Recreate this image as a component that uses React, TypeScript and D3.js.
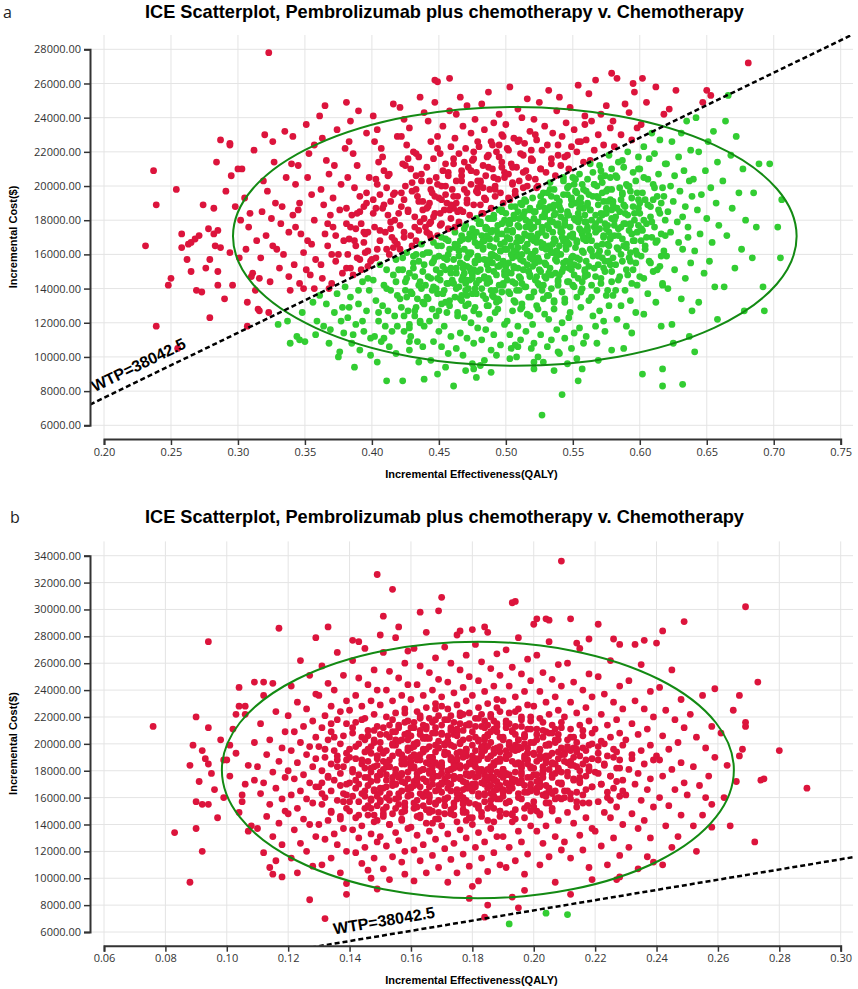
import React, { useEffect, useRef } from "react";
import * as d3 from "d3";

const TITLE = "ICE Scatterplot, Pembrolizumab plus chemotherapy v. Chemotherapy";
const X_LABEL = "Incremental Effectiveness(QALY)";
const Y_LABEL = "Incremental Cost($)";
const WTP = 38042.5;

const xTicksA = [0.2, 0.25, 0.3, 0.35, 0.4, 0.45, 0.5, 0.55, 0.6, 0.65, 0.7, 0.75];
const yTicksA = [6000, 8000, 10000, 12000, 14000, 16000, 18000, 20000, 22000, 24000, 26000, 28000];
const xTicksB = [0.06, 0.08, 0.1, 0.12, 0.14, 0.16, 0.18, 0.2, 0.22, 0.24, 0.26, 0.28, 0.3];
const yTicksB = [6000, 8000, 10000, 12000, 14000, 16000, 18000, 20000, 22000, 24000, 26000, 28000, 30000, 32000, 34000];

// confidence ellipses
const ellipseA = { eff: 0.5067, cost: 17055, effR: 0.2104, costR: 7570 };
const ellipseB = { eff: 0.1818, cost: 18055, effR: 0.0834, costR: 9550 };

// simulations, flat pairs: effectiveness x1000, cost / 100
const aLeftTail = [
  231,165, 237,209, 239,189, 239,118, 254,198, 255,105, 250,146, 248,142, 258,172, 258,164, 263,166, 265,167,
  268,169, 265,150, 269,139, 273,138, 274,189, 278,175, 279,157, 279,123, 282,187, 282,172, 284,214, 285,174,
  285,150, 285,142, 283,165, 287,164, 287,227, 294,225, 294,224, 295,206, 294,161, 296,142, 298,188, 271,171,
  276,152, 290,134, 262,157, 291,197,
];

const aBody1 = [
  301,158, 303,210, 300,210, 305,193, 308,176, 311,149, 310,147, 316,146, 315,128, 307,132, 307,118, 316,127,
  312,221, 318,185, 314,168, 319,203, 306,163, 317,158, 313,139, 320,230, 302,180, 309,184,
  322,197, 325,181, 321,171, 327,214, 329,163, 331,152, 324,144, 333,188, 336,205, 338,173, 326,226, 334,160,
  339,139, 323,126, 337,121, 335,232, 328,190, 332,178, 340,213, 330,119, 323,278, 326,165, 338,147,
  341,229, 343,201, 345,186, 347,172, 349,161, 342,154, 346,143, 351,236, 353,219, 355,195, 357,180, 352,168,
  358,157, 354,148, 356,132, 348,126, 344,112, 350,109, 359,121, 339,108, 346,110, 346,190, 352,205, 357,224,
  343,176, 355,166, 349,140, 358,113, 345,212, 351,151, 341,183, 357,140,
  361,241, 363,228, 365,247, 366,215, 368,207, 362,198, 364,189, 369,183, 371,176, 373,171, 367,165, 375,160,
  362,154, 378,149, 370,143, 374,137, 366,131, 372,126, 377,121, 364,118, 379,114, 368,108, 376,103, 363,146,
  371,193, 377,201, 380,222, 374,233, 367,178, 379,168, 373,156, 361,136, 378,129, 369,116, 375,100, 365,172,
  372,212, 376,186, 370,160, 368,140,
  381,249, 384,238, 383,226, 386,219, 389,212, 382,205, 387,199, 391,194, 394,188, 385,183, 392,178, 397,173,
  383,169, 388,165, 395,161, 399,156, 381,152, 386,148, 393,144, 398,139, 384,135, 390,131, 396,127, 382,123,
  388,119, 394,115, 399,111, 385,108, 391,104, 387,94, 396,231, 390,244, 398,205, 381,187, 395,172, 389,158,
  392,151, 380,141, 397,146, 383,129, 393,121, 386,113, 399,101, 391,185, 384,176, 396,196, 388,175, 394,167,
  382,160, 397,153, 390,139,
  401,241, 404,233, 402,226, 407,222, 405,214, 409,209, 403,204, 411,199, 406,195, 414,191, 408,187, 412,183,
  417,180, 402,176, 410,173, 415,170, 419,166, 404,163, 413,160, 418,157, 406,154, 411,151, 416,148, 401,145,
  409,142, 414,139, 419,136, 403,133, 408,130, 412,127, 417,124, 405,121, 410,118, 415,115, 402,112, 407,109,
  413,106, 418,102, 404,97, 411,86, 416,248, 419,229, 408,217, 413,207, 417,196, 403,187, 420,184, 406,168,
  416,164, 400,157, 420,151, 411,140, 405,126, 419,118, 409,111, 414,175, 401,192, 418,144,
  421,246, 424,239, 428,234, 422,229, 426,224, 431,220, 435,217, 423,213, 429,210, 433,206, 437,203, 425,200,
  430,197, 434,194, 438,191, 422,188, 427,185, 432,182, 436,179, 440,176, 424,173, 429,171, 433,168, 437,166,
  421,163, 426,161, 431,159, 435,156, 439,154, 423,151, 428,149, 432,147, 436,144, 440,142, 425,139, 430,137,
  434,134, 438,132, 422,129, 427,127, 432,124, 436,121, 439,118, 424,115, 429,112, 434,109, 438,106, 428,104,
  428,109, 435,97, 439,87, 423,86, 436,252, 439,243, 427,216, 433,198, 438,186, 421,177, 430,165, 438,160,
  425,144, 433,129, 428,119, 424,192, 435,174, 431,152, 426,135,
];

const aBody2 = [
  447,249, 458,244, 442,238, 453,235, 449,229, 444,226, 459,223, 451,219, 446,216, 455,213, 441,211, 457,208,
  448,205, 443,203, 452,200, 460,198, 445,196, 450,193, 456,190, 442,188, 454,186, 447,184, 459,181, 444,179,
  451,177, 457,175, 441,173, 449,171, 455,169, 446,167, 452,165, 458,163, 443,161, 450,159, 456,157, 445,155,
  453,153, 448,151, 459,149, 442,147, 451,145, 457,143, 446,141, 454,139, 449,137, 441,135, 458,133, 452,131,
  445,128, 456,126, 448,124, 443,121, 454,118, 450,115, 459,112, 446,109, 452,106, 457,102, 444,98, 455,94,
  449,90, 461,83, 447,262, 458,263, 449,261, 452,192, 444,170, 457,160, 449,146, 455,132,
  466,252, 471,247, 463,242, 477,239, 468,235, 474,231, 462,228, 479,226, 470,222, 465,219, 476,216, 461,213,
  472,211, 478,208, 467,206, 463,203, 474,201, 469,198, 479,196, 464,194, 471,192, 476,189, 461,187, 468,185,
  473,183, 478,181, 465,179, 470,177, 475,175, 462,173, 467,171, 472,169, 477,167, 464,165, 469,163, 474,161,
  479,159, 461,157, 466,155, 471,153, 476,151, 463,149, 468,147, 473,145, 478,143, 465,141, 470,139, 475,137,
  462,135, 467,133, 472,131, 477,129, 464,126, 469,123, 474,120, 479,117, 466,114, 471,111, 476,108, 463,105,
  468,101, 475,96, 470,92, 478,88, 465,178, 473,172, 462,164, 477,156, 468,152, 475,148, 463,140, 471,136,
  476,170, 466,186, 479,199,
  487,255, 482,248, 495,242, 491,237, 484,233, 498,229, 489,226, 480,223, 493,220, 486,217, 497,214, 483,212,
  490,210, 499,208, 485,206, 494,204, 481,202, 492,200, 488,198, 496,196, 492,194, 485,192, 498,190, 481,189,
  489,187, 495,186, 483,184, 491,183, 487,181, 499,180, 480,178, 494,177, 486,175, 490,174, 497,172, 482,171,
  493,169, 484,168, 496,166, 488,165, 483,163, 496,162, 489,160, 492,159, 480,157, 498,156, 486,154, 494,153,
  481,151, 491,150, 499,148, 484,146, 488,144, 495,142, 482,140, 497,138, 490,136, 485,134, 493,132, 487,130,
  494,128, 480,125, 488,122, 499,119, 485,116, 491,113, 482,110, 496,107, 489,104, 493,101, 484,98, 476,93,
  489,91, 481,95,
  503,258, 516,251, 509,245, 512,240, 500,236, 518,232, 506,228, 514,225, 501,222, 511,219, 519,216, 504,213,
  508,211, 515,209, 502,207, 517,205, 510,203, 505,201, 513,199, 507,197, 507,195, 502,193, 515,191, 511,190,
  504,188, 518,187, 509,185, 500,184, 513,182, 506,181, 517,179, 503,178, 510,176, 519,175, 505,173, 514,172,
  501,170, 512,169, 508,167, 516,166, 514,164, 500,163, 508,161, 519,160, 505,158, 511,157, 502,155, 516,154,
  509,152, 513,151, 504,149, 518,147, 501,145, 507,143, 515,141, 510,139, 503,137, 517,135, 506,133, 512,131,
  512,129, 505,127, 518,124, 501,121, 509,118, 515,115, 503,113, 511,110, 507,107, 519,105, 504,105, 509,106,
  503,99, 508,100, 521,93, 527,66,
  532,256, 525,249, 538,244, 521,239, 529,235, 535,231, 523,227, 531,224, 527,221, 539,218, 520,215, 534,213,
  526,210, 530,208, 537,206, 522,204, 533,202, 524,200, 536,198, 528,196, 534,194, 520,193, 528,191, 539,189,
  525,188, 531,186, 522,185, 536,183, 529,182, 533,180, 524,179, 538,177, 521,176, 527,174, 535,173, 530,171,
  523,170, 537,168, 526,167, 532,165, 527,164, 522,162, 535,161, 531,159, 524,158, 538,156, 529,155, 520,153,
  533,152, 526,150, 537,149, 523,147, 530,146, 539,144, 525,142, 534,140, 521,138, 532,136, 528,134, 536,132,
  523,130, 536,128, 529,125, 532,122, 520,119, 538,116, 526,113, 534,110, 521,108, 531,106, 539,103, 524,100,
  528,97, 536,92, 542,78, 521,97,
  554,259, 540,252, 548,246, 559,241, 545,237, 551,233, 542,229, 556,226, 549,223, 553,220, 544,217, 558,214,
  541,212, 547,210, 555,207, 550,205, 543,203, 557,201, 546,199, 552,197, 543,195, 556,193, 549,192, 552,190,
  540,188, 558,187, 546,185, 554,184, 541,182, 551,181, 559,179, 544,178, 548,176, 555,175, 542,173, 557,172,
  550,170, 545,169, 553,167, 547,166, 552,164, 545,163, 558,161, 541,160, 549,158, 555,157, 543,155, 551,154,
  547,152, 559,150, 540,148, 554,146, 546,144, 550,142, 557,140, 542,138, 553,135, 544,132, 556,129, 548,126,
  547,123, 542,120, 555,117, 551,114, 544,111, 558,108, 549,105, 540,102, 553,99, 546,96, 557,93, 554,86,
];

const aBody3 = [
  567,262, 562,254, 575,247, 571,242, 564,238, 578,234, 569,230, 560,227, 573,224, 566,221, 577,218, 563,215,
  570,212, 579,210, 565,208, 574,206, 561,204, 572,202, 568,200, 576,198, 572,196, 565,194, 578,192, 561,190,
  569,189, 575,187, 563,186, 571,184, 567,183, 579,181, 560,179, 574,178, 566,176, 570,175, 577,173, 562,171,
  573,170, 564,168, 576,166, 568,165, 563,163, 576,161, 569,160, 572,158, 560,156, 578,154, 566,152, 574,150,
  561,148, 571,146, 579,144, 564,142, 568,139, 575,136, 562,133, 577,130, 570,127, 565,124, 573,121, 567,118,
  574,115, 560,112, 568,108, 579,104, 569,98, 579,266,
  583,263, 596,255, 589,248, 592,243, 580,238, 598,234, 586,230, 594,227, 581,223, 591,220, 599,217, 584,214,
  588,211, 595,208, 582,206, 597,203, 590,201, 585,199, 593,197, 587,195, 594,193, 580,191, 588,189, 599,187,
  585,185, 591,183, 582,182, 596,180, 589,178, 593,177, 584,175, 598,173, 581,171, 587,169, 595,168, 590,166,
  583,164, 597,162, 586,160, 592,158, 587,156, 582,154, 595,151, 591,148, 584,145, 598,142, 589,139, 580,136,
  593,133, 586,130, 597,126, 583,122, 590,118, 594,114, 588,105, 595,260,
  612,258, 605,249, 618,242, 601,236, 609,231, 615,227, 603,223, 611,219, 607,216, 619,213, 600,210, 614,207,
  606,204, 610,201, 617,199, 602,196, 613,194, 604,192, 616,190, 608,188, 614,186, 600,184, 608,182, 619,180,
  605,178, 611,176, 602,174, 616,172, 609,170, 613,168, 604,165, 618,162, 601,159, 607,156, 615,153, 610,150,
  603,146, 617,142, 606,137, 612,132, 603,125, 616,118, 602,90, 617,93, 617,83, 602,263,
  627,256, 622,245, 635,238, 631,231, 624,226, 638,221, 629,217, 620,213, 633,209, 626,206, 637,203, 623,200,
  630,197, 639,194, 625,191, 634,188, 621,185, 632,182, 628,179, 636,176, 623,173, 636,170, 629,167, 632,163,
  620,159, 638,155, 626,151, 634,146, 621,140, 631,134, 639,127, 624,119, 632,84, 641,103, 637,112, 625,108,
  647,249, 642,240, 655,232, 651,226, 644,220, 658,214, 649,209, 640,204, 653,199, 646,195, 657,190, 643,186,
  650,181, 659,177, 645,172, 654,167, 641,162, 652,156, 648,149, 656,141, 644,132, 658,122, 650,256, 653,253,
  666,253, 664,238, 672,229, 668,218, 677,210, 662,203, 674,196, 669,187, 679,180, 665,171, 676,163, 671,152,
  663,141, 678,127,
  681,272, 689,213, 697,213, 685,196, 692,141, 693,127, 687,176, 684,158, 706,192, 705,158, 703,176,
];

// the crowded middle of panel a
const aCore = [
  443,172, 457,168, 449,165, 441,161, 454,158, 446,156, 459,152, 451,149, 444,146, 456,143, 448,140, 453,137,
  442,134, 458,130, 450,127, 447,158, 455,151, 445,139, 452,170, 460,145,
  446,182, 452,178, 458,186, 443,190, 455,195, 449,201, 457,206, 444,198,
  462,176, 474,172, 468,169, 479,165, 465,162, 471,158, 477,155, 463,152, 469,149, 475,146, 461,143, 472,140,
  478,137, 466,134, 470,130, 476,127, 464,124, 473,160, 467,145, 479,150, 462,166, 476,171,
  464,185, 471,190, 478,197, 467,203, 474,209, 461,194, 469,214, 476,220,
  482,184, 491,181, 497,178, 485,175, 494,172, 488,169, 481,166, 499,163, 490,160, 484,157, 496,154, 487,151,
  493,148, 480,145, 498,142, 489,139, 483,136, 495,133, 486,130, 492,126, 497,186, 481,179, 489,173, 494,158,
  486,143, 499,150, 483,168, 491,135,
  484,193, 492,198, 499,205, 487,211, 495,217, 481,203, 490,224, 497,230,
  503,192, 512,189, 518,186, 506,183, 515,180, 509,177, 501,174, 519,171, 511,168, 504,165, 516,162, 508,159,
  513,156, 500,153, 517,150, 510,147, 505,144, 514,141, 502,138, 519,135, 507,132, 511,128, 516,125, 503,180,
  509,170, 514,185, 506,152, 518,158, 501,163, 512,143,
  505,202, 513,208, 519,215, 502,221, 510,227, 516,200,
  523,199, 531,196, 538,193, 526,190, 535,187, 529,184, 521,181, 539,178, 532,175, 524,172, 536,169, 528,166,
  533,163, 520,160, 537,157, 530,154, 525,151, 534,148, 522,145, 539,142, 527,139, 531,136, 536,133, 524,128,
  533,188, 527,176, 538,162, 521,168, 529,147, 535,179,
  526,210, 534,216, 539,224, 522,230,
  543,205, 551,201, 558,198, 546,195, 555,192, 549,189, 541,186, 559,183, 552,180, 544,177, 556,174, 548,171,
  553,168, 540,165, 557,162, 550,159, 545,156, 554,153, 542,150, 559,147, 547,144, 551,141, 556,138, 544,134,
  553,196, 547,183, 558,170, 541,173, 549,151, 555,187,
  546,218, 554,226, 559,236,
  563,213, 571,209, 578,205, 566,201, 575,197, 569,193, 561,189, 579,186, 572,183, 564,180, 576,177, 568,174,
  573,171, 560,168, 577,165, 570,162, 565,159, 574,156, 562,153, 579,150, 567,147, 571,143, 576,139, 564,135,
  573,191, 567,178, 578,169, 561,174, 569,154, 575,184,
  583,205, 591,200, 598,196, 586,192, 595,188, 589,184, 581,180, 599,177, 592,174, 584,171, 596,168, 588,165,
  593,161, 580,158, 597,155, 590,151, 585,147, 594,143, 582,139, 599,210, 587,215, 593,178,
  603,205, 611,199, 618,194, 606,189, 615,184, 609,179, 601,175, 619,171, 612,167, 604,163, 616,159, 608,155,
  613,151, 600,147, 617,143, 610,192, 605,170,
  423,158, 431,155, 438,150, 426,146, 435,142, 429,138, 421,134, 439,131, 432,127, 424,124, 436,120, 428,117,
  433,160, 437,140,
  424,170, 432,176, 439,181, 427,186, 435,191, 422,196, 430,202, 437,207, 425,212, 433,219,
  403,158, 411,163, 417,168, 406,174, 414,179, 401,184, 409,189, 416,195, 404,201, 412,206,
  384,152, 391,157, 397,162, 387,168, 394,173, 381,178, 389,184, 396,190,
];

const aCore2 = [
  481,178, 469,175, 476,171, 466,168, 483,164, 472,161, 479,157, 468,154, 474,150, 484,147, 470,143, 477,140,
  467,136, 480,166, 473,152, 465,159, 478,173, 471,145,
  497,185, 489,181, 502,178, 493,174, 486,171, 499,167, 491,164, 504,160, 488,157, 495,153, 501,150, 487,146,
  498,143, 492,139, 503,169, 490,155, 496,162, 485,176, 500,148, 494,134,
  514,192, 507,188, 521,185, 510,181, 518,178, 505,174, 516,171, 523,167, 509,164, 512,160, 520,157, 506,153,
  517,150, 511,146, 524,143, 508,139, 513,183, 519,169, 522,155, 515,176, 506,162, 518,148,
  533,198, 526,194, 540,191, 529,187, 537,184, 544,180, 531,177, 527,173, 542,170, 535,166, 530,163, 538,159,
  525,156, 543,152, 532,149, 539,145, 528,142, 536,189, 541,175, 534,161, 527,182, 543,168,
  552,204, 547,200, 560,197, 549,193, 556,190, 563,186, 546,183, 554,179, 561,176, 550,172, 558,169, 545,165,
  564,162, 553,158, 548,155, 559,151, 551,148, 557,144, 562,195, 555,181, 546,167, 560,174,
  571,205, 566,201, 579,198, 568,194, 576,191, 583,187, 574,184, 570,180, 581,177, 567,173, 578,170, 572,166,
  584,163, 569,159, 577,156, 573,152, 580,189, 575,175,
  592,200, 587,196, 599,192, 589,188, 596,184, 603,180, 586,176, 594,172, 601,168, 590,164, 598,160, 593,156,
  600,190, 588,178,
  443,178, 451,184, 459,189, 447,194, 455,200, 463,190, 471,196, 479,203, 467,209, 475,215, 483,199, 491,205,
  497,211, 487,218, 495,224, 453,209, 461,216, 441,187, 449,222, 505,211, 513,218, 509,226, 519,221,
];

const bLeftTail = [
  76,213, 83,134, 88,97, 88,184, 89,199, 90,220, 90,157, 92,155, 94,155, 90,137, 92,120, 94,185, 94,276,
  91,172, 93,189, 96,166, 98,203, 95,178, 99,160, 97,145, 94,212, 99,188, 92,195,
  101,176, 103,193, 105,162, 102,211, 107,184, 104,149, 109,201, 106,170, 108,139, 100,188, 103,222, 105,157,
  109,173, 101,199, 107,135, 104,242, 109,246, 106,228, 112,246, 115,245, 104,228, 106,222,
  112,236, 116,224, 111,215, 119,209, 114,203, 118,197, 113,192, 117,187, 110,183, 115,179, 119,175, 112,171,
  116,167, 111,163, 118,159, 114,155, 119,150, 113,146, 117,141, 110,137, 115,131, 118,125, 112,119, 116,113,
  114,108, 115,103, 118,101, 117,286,
  124,262, 127,251, 121,243, 129,237, 123,231, 126,226, 120,221, 128,217, 125,213, 122,209, 129,205, 124,201,
  127,198, 121,195, 126,192, 129,189, 123,186, 128,183, 120,180, 125,177, 122,174, 127,171, 129,168, 124,165,
  121,162, 126,159, 128,156, 123,152, 120,148, 125,144, 127,140, 122,136, 129,131, 124,126, 126,120, 121,115,
  128,109, 123,104, 127,84, 129,279,
];

const bBody1 = [
  136,268, 131,258, 138,251, 133,245, 135,240, 130,236, 139,232, 134,228, 137,224, 132,221, 136,218, 139,215,
  131,212, 134,209, 138,206, 133,203, 137,200, 130,198, 135,195, 139,193, 132,190, 136,188, 134,185, 138,183,
  131,180, 137,178, 133,175, 135,173, 139,170, 130,168, 134,165, 138,163, 132,160, 136,158, 131,155, 139,152,
  134,149, 137,146, 133,143, 130,140, 138,137, 135,133, 132,129, 136,125, 139,120, 134,115, 131,110, 137,104,
  139,96, 133,287, 132,70, 139,88,
  145,271, 141,262, 148,255, 143,249, 146,244, 149,240, 142,236, 147,232, 144,228, 140,225, 148,222, 145,219,
  142,216, 149,213, 146,210, 141,208, 144,205, 148,203, 143,200, 147,198, 140,196, 145,194, 149,191, 142,189,
  146,187, 144,185, 148,183, 141,181, 147,179, 143,177, 145,175, 149,173, 140,171, 146,169, 142,167, 148,165,
  144,163, 141,161, 147,159, 143,157, 149,154, 145,152, 140,150, 146,147, 142,145, 148,142, 144,139, 141,136,
  147,133, 143,130, 149,127, 145,123, 142,119, 148,115, 144,111, 146,106, 141,277, 143,276, 149,326, 150,281,
  147,100, 149,92,
  155,279, 151,268, 158,260, 153,254, 156,249, 159,244, 152,240, 157,236, 154,232, 150,229, 158,226, 155,223,
  152,220, 159,217, 156,214, 151,212, 154,209, 158,207, 153,205, 157,203, 150,201, 155,199, 159,197, 152,195,
  156,193, 154,191, 158,189, 151,187, 157,185, 153,183, 155,181, 159,179, 150,177, 156,175, 152,173, 158,171,
  154,169, 151,167, 157,165, 153,163, 159,161, 155,159, 150,157, 156,155, 152,153, 158,150, 154,148, 151,146,
  157,143, 153,140, 159,137, 155,134, 150,131, 156,128, 152,124, 158,120, 154,116, 157,112, 151,107, 153,99,
  158,103, 154,315, 151,295, 156,287, 159,269, 152,183, 157,178, 150,164, 155,170, 159,208,
];

const bBody2 = [
  165,283, 161,271, 168,264, 163,258, 166,253, 169,248, 162,244, 167,240, 164,236, 160,233, 168,230, 165,227,
  162,224, 169,221, 166,219, 161,216, 164,214, 168,212, 163,210, 167,208, 160,206, 165,204, 169,202, 162,200,
  166,198, 164,196, 168,194, 161,192, 167,190, 163,188, 165,186, 169,184, 160,182, 166,180, 162,178, 168,176,
  164,174, 161,172, 167,170, 163,168, 169,166, 165,164, 160,162, 166,160, 162,158, 168,156, 164,154, 161,152,
  167,150, 163,147, 169,144, 165,141, 160,138, 166,135, 162,132, 168,129, 164,125, 161,121, 167,117, 163,113,
  169,108, 165,104, 161,98, 163,298, 170,309, 169,299, 166,185, 162,171, 168,199, 164,161, 160,190, 167,179,
  163,207, 166,149, 161,183,
  175,281, 171,272, 178,266, 173,260, 176,255, 179,250, 172,246, 177,242, 174,238, 170,235, 178,232, 175,229,
  172,226, 179,223, 176,221, 171,218, 174,216, 178,214, 173,212, 177,210, 170,208, 175,206, 179,204, 172,202,
  176,200, 174,198, 178,196, 171,194, 177,192, 173,190, 175,188, 179,186, 170,184, 176,182, 172,180, 178,178,
  174,176, 171,174, 177,172, 173,170, 179,168, 175,166, 170,164, 176,162, 172,160, 178,158, 174,156, 171,154,
  177,151, 173,148, 179,145, 175,142, 170,139, 176,136, 172,133, 178,130, 174,126, 171,122, 177,118, 173,114,
  179,109, 175,104, 172,97, 176,284, 180,285, 179,85, 174,185, 178,191, 172,167, 176,175, 171,199, 177,157,
  173,181, 179,176, 175,193, 170,171, 178,149,
  185,283, 181,274, 188,267, 183,261, 186,256, 189,251, 182,247, 187,243, 184,239, 180,236, 188,233, 185,230,
  182,227, 189,224, 186,222, 181,219, 184,217, 188,215, 183,213, 187,211, 180,209, 185,207, 189,205, 182,203,
  186,201, 184,199, 188,197, 181,195, 187,193, 183,191, 185,189, 189,187, 180,185, 186,183, 182,181, 188,179,
  184,177, 181,175, 187,173, 183,171, 189,169, 185,167, 180,165, 186,163, 182,161, 188,159, 184,157, 181,155,
  187,152, 183,149, 189,146, 185,143, 180,140, 186,137, 182,134, 188,131, 184,127, 181,123, 187,119, 183,115,
  189,110, 185,105, 182,98, 184,287, 184,71, 185,80, 180,94, 183,180, 187,186, 181,168, 186,176, 189,194,
  182,188, 188,172, 184,163, 185,198, 180,178,
  195,279, 191,270, 198,263, 193,257, 196,252, 199,247, 192,243, 197,239, 194,235, 190,232, 198,229, 195,226,
  192,223, 199,220, 196,218, 191,215, 194,213, 198,211, 193,209, 197,207, 190,205, 195,203, 199,201, 192,199,
  196,197, 194,195, 198,193, 191,191, 197,189, 193,187, 195,185, 199,183, 190,181, 196,179, 192,177, 198,175,
  194,173, 191,171, 197,169, 193,167, 199,165, 195,163, 190,161, 196,159, 192,157, 198,154, 194,151, 191,148,
  197,145, 193,142, 199,139, 195,135, 190,131, 196,127, 192,123, 198,118, 194,113, 191,108, 197,103, 194,306,
  193,305, 200,289, 195,78, 193,86, 197,91, 192,66, 196,183, 191,177, 198,188, 193,172, 195,196, 190,166,
];

const bBody3 = [
  205,276, 201,266, 208,259, 203,253, 206,248, 209,243, 202,239, 207,235, 204,231, 200,228, 208,225, 205,222,
  202,219, 209,216, 206,214, 201,211, 204,209, 208,207, 203,205, 207,203, 200,201, 205,199, 209,197, 202,195,
  206,193, 204,191, 208,189, 201,187, 207,185, 203,183, 205,181, 209,179, 200,177, 206,175, 202,173, 208,171,
  204,169, 201,167, 207,165, 203,162, 209,159, 205,156, 200,153, 206,150, 202,147, 208,143, 204,139, 201,135,
  207,131, 203,126, 209,121, 205,116, 202,110, 207,97, 204,74, 209,336, 201,293, 204,293, 205,292, 203,180,
  206,186, 201,172, 208,194, 204,163,
  215,271, 211,260, 218,252, 213,246, 216,240, 219,235, 212,231, 217,227, 214,223, 210,220, 218,217, 215,214,
  212,211, 219,208, 216,206, 211,203, 214,201, 218,199, 213,197, 217,195, 210,193, 215,191, 219,189, 212,187,
  216,185, 214,183, 218,181, 211,179, 217,176, 213,174, 215,171, 219,168, 210,165, 216,162, 212,159, 218,156,
  214,153, 211,149, 217,145, 213,141, 219,137, 215,132, 210,127, 216,121, 212,115, 218,108, 211,73, 212,88,
  219,99, 212,293, 214,275, 218,278, 215,180, 213,190, 217,166, 211,186, 216,197, 214,157,
  225,262, 221,250, 228,243, 223,237, 226,231, 229,226, 222,222, 227,218, 224,214, 220,211, 228,208, 225,205,
  222,202, 229,199, 226,196, 221,193, 224,191, 228,188, 223,185, 227,182, 220,179, 225,176, 229,173, 222,170,
  226,167, 224,164, 228,161, 221,157, 227,153, 223,149, 225,145, 229,140, 220,135, 226,130, 222,124, 228,117,
  224,110, 227,99, 228,101, 221,289, 226,278, 228,274, 223,184, 227,172, 221,198, 225,158,
  235,259, 231,247, 238,239, 233,232, 236,226, 239,220, 232,215, 237,211, 234,207, 230,203, 238,199, 235,195,
  232,192, 239,188, 236,185, 231,181, 234,178, 238,174, 233,170, 237,166, 230,162, 235,158, 239,153, 232,148,
  236,143, 234,137, 238,130, 231,123, 237,116, 234,107, 239,112, 233,274, 236,277, 240,275, 232,189,
  245,255, 241,242, 248,233, 243,225, 246,218, 249,212, 242,206, 247,201, 244,196, 240,191, 248,186, 245,181,
  242,176, 249,171, 246,166, 241,160, 244,154, 248,147, 243,139, 247,131, 242,110, 242,284, 249,291, 245,123,
  241,188,
  255,236, 251,222, 258,213, 253,205, 256,197, 259,190, 252,183, 257,176, 254,169, 250,162, 258,155, 255,147,
  252,139, 253,120, 258,138, 259,241, 256,160,
  265,225, 261,208, 268,196, 263,184, 266,172, 262,160, 267,236, 269,216, 269,213, 264,139, 267,191,
  273,246, 280,195, 275,174, 274,173, 289,167, 272,127, 269,302,
];

// the crowded middle of panel b
const bCore = [
  133,176, 137,169, 131,163, 138,157, 134,150, 136,183, 132,196, 139,188, 135,205, 137,144, 131,171, 139,162,
  134,215, 136,191,
  142,198, 147,193, 144,188, 149,184, 141,179, 146,175, 143,170, 148,166, 145,161, 140,157, 147,152, 143,147,
  149,143, 141,212, 146,206, 144,218, 148,201, 142,173, 145,182, 147,158, 149,176, 140,190,
  156,212, 152,207, 159,203, 154,199, 150,196, 157,192, 153,188, 158,185, 151,181, 155,178, 159,174, 154,171,
  150,167, 156,163, 152,160, 158,156, 155,152, 151,148, 157,144, 153,140, 154,218, 158,223, 151,194, 156,176,
  153,183, 159,166, 150,158, 155,203, 152,186, 157,172,
  163,221, 167,216, 161,212, 168,208, 165,205, 162,201, 169,197, 164,194, 166,190, 160,187, 167,183, 163,180,
  169,176, 165,172, 161,169, 168,165, 164,161, 166,157, 162,153, 169,149, 163,145, 167,141, 160,197, 165,213,
  168,186, 162,175, 166,168, 161,182, 164,204, 169,158, 163,192, 167,174, 160,167, 165,151, 168,226, 162,188,
  176,223, 172,218, 179,214, 174,210, 170,207, 177,203, 173,199, 178,196, 171,192, 175,189, 179,185, 174,182,
  170,178, 176,174, 172,171, 178,167, 175,163, 171,159, 177,155, 173,151, 174,147, 178,143, 171,200, 176,215,
  173,188, 179,177, 170,170, 175,184, 172,206, 177,160, 176,194, 172,176, 179,168, 174,153, 170,228, 177,190,
  173,181, 178,171,
  183,222, 187,217, 181,213, 188,209, 185,206, 182,202, 189,198, 184,195, 186,191, 180,188, 187,184, 183,181,
  189,177, 185,173, 181,170, 188,166, 184,162, 186,158, 182,154, 189,150, 183,146, 187,142, 180,199, 185,214,
  188,187, 182,176, 186,169, 181,183, 184,205, 189,159, 183,193, 187,175, 180,167, 185,152, 188,227, 182,189,
  186,180, 184,170,
  196,220, 192,215, 199,211, 194,207, 190,204, 197,200, 193,196, 198,193, 191,189, 195,186, 199,182, 194,179,
  190,175, 196,171, 192,168, 198,164, 195,160, 191,156, 197,152, 193,148, 194,144, 198,197, 191,212, 196,185,
  193,174, 199,167, 190,181, 195,203, 192,157, 197,191, 196,173, 192,165, 199,150, 194,224,
  203,216, 207,211, 201,207, 208,203, 205,200, 202,196, 209,192, 204,189, 206,185, 200,182, 207,178, 203,175,
  209,171, 205,167, 201,164, 208,160, 204,156, 206,152, 202,148, 200,193, 205,208, 208,181, 202,170, 206,163,
  201,177, 204,199,
  216,210, 212,205, 219,200, 214,196, 210,192, 217,188, 213,184, 218,180, 211,176, 215,172, 219,168, 214,164,
  210,160, 216,156, 212,195, 218,183, 215,175, 211,165,
  223,200, 227,194, 221,188, 228,182, 225,176, 222,170, 229,165, 224,160, 226,190, 221,178,
];

const bCore2 = [
  153,214, 148,210, 150,207, 145,203, 154,200, 146,196, 151,193, 149,189, 152,186, 147,182, 150,179, 154,175,
  147,172, 152,168, 145,165, 149,161, 153,158, 146,154, 151,151, 148,147, 149,191, 152,177,
  163,219, 158,216, 160,212, 155,209, 164,205, 156,202, 161,198, 159,195, 162,191, 157,188, 160,184, 164,181,
  157,177, 162,174, 155,170, 159,167, 163,163, 156,160, 161,156, 158,153, 157,149, 162,146, 159,207, 156,194,
  164,181, 160,168, 158,186, 161,200,
  173,221, 168,218, 170,214, 165,211, 174,207, 166,204, 171,200, 169,197, 172,193, 167,190, 170,186, 174,183,
  167,179, 172,176, 165,172, 169,169, 173,165, 166,162, 171,158, 168,155, 166,151, 171,148, 168,144, 173,210,
  165,196, 170,182, 174,174, 167,188, 172,202, 169,166, 166,178, 171,192,
  177,222, 182,219, 179,215, 184,212, 175,208, 181,205, 176,201, 183,198, 178,194, 180,191, 181,187, 176,184,
  183,180, 178,177, 184,173, 180,170, 177,166, 182,163, 175,159, 179,156, 182,152, 177,149, 180,145, 175,211,
  183,197, 178,183, 176,175, 181,189, 184,203, 179,167, 182,179, 177,193,
  186,220, 191,217, 188,213, 193,210, 185,206, 190,203, 194,199, 187,196, 192,192, 189,189, 194,185, 186,182,
  191,178, 185,175, 193,171, 188,168, 190,164, 187,161, 192,157, 186,154, 189,150, 193,147, 186,209, 191,195,
  185,181, 194,173, 188,187, 192,201, 187,165, 190,179,
  199,217, 196,213, 203,210, 197,206, 201,203, 204,199, 195,196, 200,192, 202,189, 198,185, 196,182, 203,178,
  199,175, 195,171, 202,168, 197,164, 204,161, 200,157, 198,154, 201,150, 197,205, 202,191, 196,177, 204,186,
  199,170, 195,198,
  209,212, 206,208, 213,205, 207,201, 211,198, 214,194, 205,191, 210,187, 212,184, 208,180, 206,177, 213,173,
  209,170, 205,166, 212,163, 207,159, 211,196, 208,182,
];

type Ellipse = { eff: number; cost: number; effR: number; costR: number };
type Panel = {
  letter: string;
  letterX: number;
  titleY: number;
  top: number;
  bottom: number;
  xDomain: [number, number];
  yDomain: [number, number];
  xTicks: number[];
  yTicks: number[];
  pairs: number[];
  ellipse: Ellipse;
  labelEff: number;
};

const panels: Panel[] = [
  {
    letter: "a", letterX: 3, titleY: 17.5, top: 49.3, bottom: 425.3,
    xDomain: [0.2, 0.75], yDomain: [6000, 28000], xTicks: xTicksA, yTicks: yTicksA,
    pairs: [...aLeftTail, ...aBody1, ...aBody2, ...aBody3, ...aCore, ...aCore2],
    ellipse: ellipseA, labelEff: 0.196,
  },
  {
    letter: "b", letterX: 10, titleY: 523, top: 555.7, bottom: 932,
    xDomain: [0.06, 0.3], yDomain: [6000, 34000], xTicks: xTicksB, yTicks: yTicksB,
    pairs: [...bLeftTail, ...bBody1, ...bBody2, ...bBody3, ...bCore, ...bCore2],
    ellipse: ellipseB, labelEff: 0.1355,
  },
];

const BOLD = "'Liberation Sans', Arial, sans-serif";
const TICK_FONT = "'Open Sans', 'DejaVu Sans', sans-serif";

function drawPanel(svg: d3.Selection<SVGSVGElement, unknown, null, undefined>, p: Panel) {
  const left = 90;
  const right = 853;
  const gridTop = p.top - 14.3;
  const axisY = p.bottom + 13.7;

  const x = d3.scaleLinear().domain(p.xDomain).range([104, 840.7]);
  const y = d3.scaleLinear().domain(p.yDomain).range([p.bottom, p.top]);

  const g = svg.append("g");

  // grid
  g.append("g")
    .selectAll("line")
    .data(p.xTicks)
    .join("line")
    .attr("x1", d => x(d))
    .attr("x2", d => x(d))
    .attr("y1", gridTop)
    .attr("y2", axisY)
    .attr("stroke", "#e4e4e4");
  g.append("g")
    .selectAll("line")
    .data(p.yTicks)
    .join("line")
    .attr("x1", left)
    .attr("x2", right)
    .attr("y1", d => y(d))
    .attr("y2", d => y(d))
    .attr("stroke", "#e4e4e4");

  // points
  const pts: { eff: number; cost: number }[] = [];
  for (let i = 0; i < p.pairs.length; i += 2) {
    pts.push({ eff: p.pairs[i] / 1000, cost: p.pairs[i + 1] * 100 });
  }
  g.append("g")
    .selectAll("circle")
    .data(pts)
    .join("circle")
    .attr("cx", d => x(d.eff))
    .attr("cy", d => y(d.cost))
    .attr("r", 3.4)
    .attr("fill", d => (d.cost > WTP * d.eff ? "#dc143c" : "#32cd32"));

  // ellipse
  const e = p.ellipse;
  g.append("ellipse")
    .attr("cx", x(e.eff))
    .attr("cy", y(e.cost))
    .attr("rx", x(e.eff + e.effR) - x(e.eff))
    .attr("ry", y(e.cost - e.costR) - y(e.cost))
    .attr("fill", "none")
    .attr("stroke", "#138a13")
    .attr("stroke-width", 2);

  // WTP line
  const clipId = `clip-${p.letter}`;
  svg
    .append("defs")
    .append("clipPath")
    .attr("id", clipId)
    .append("rect")
    .attr("x", left)
    .attr("y", gridTop)
    .attr("width", right - left)
    .attr("height", axisY - gridTop);
  const e0 = x.invert(left);
  const e1 = x.invert(right);
  g.append("line")
    .attr("clip-path", `url(#${clipId})`)
    .attr("x1", x(e0))
    .attr("y1", y(WTP * e0))
    .attr("x2", x(e1))
    .attr("y2", y(WTP * e1))
    .attr("stroke", "#000")
    .attr("stroke-width", 2.5)
    .attr("stroke-dasharray", "5,3");

  const lx = x(p.labelEff);
  const ly = y(WTP * p.labelEff);
  const angle =
    (Math.atan2(y(WTP * (p.labelEff + 0.05)) - ly, x(p.labelEff + 0.05) - lx) * 180) / Math.PI;
  g.append("text")
    .attr("transform", `translate(${lx},${ly}) rotate(${angle})`)
    .attr("y", -9)
    .attr("font-family", BOLD)
    .attr("font-weight", "bold")
    .attr("font-size", 16)
    .text(`WTP=${WTP}`);

  // axes
  const yAxis = g
    .append("g")
    .attr("transform", `translate(${left},0)`)
    .call(d3.axisLeft(y).tickValues(p.yTicks).tickFormat(d3.format(".2f")).tickSizeOuter(0).tickSize(6));
  const xAxis = g
    .append("g")
    .attr("transform", `translate(0,${axisY})`)
    .call(d3.axisBottom(x).tickValues(p.xTicks).tickFormat(d3.format(".2f")).tickSizeOuter(0).tickSize(6));
  [yAxis, xAxis].forEach(a => {
    a.select(".domain").attr("stroke", "#333").attr("stroke-width", 2);
    a.selectAll(".tick line").attr("stroke", "#333").attr("stroke-width", 1.5);
    a.selectAll(".tick text")
      .attr("font-family", TICK_FONT)
      .attr("font-size", 11)
      .attr("fill", "#333");
  });

  // labels
  g.append("text")
    .attr("x", 471.5)
    .attr("y", axisY + 38.7)
    .attr("text-anchor", "middle")
    .attr("font-family", BOLD)
    .attr("font-weight", "bold")
    .attr("font-size", 11)
    .text(X_LABEL);
  g.append("text")
    .attr("transform", `translate(17,${(gridTop + axisY) / 2}) rotate(-90)`)
    .attr("text-anchor", "middle")
    .attr("font-family", BOLD)
    .attr("font-weight", "bold")
    .attr("font-size", 11)
    .text(Y_LABEL);
  g.append("text")
    .attr("x", 145)
    .attr("y", p.titleY)
    .attr("font-family", BOLD)
    .attr("font-weight", "bold")
    .attr("font-size", 18.2)
    .text(TITLE);
  g.append("text")
    .attr("x", p.letterX)
    .attr("y", p.titleY)
    .attr("font-family", TICK_FONT)
    .attr("font-size", 16)
    .attr("fill", "#222")
    .text(p.letter);
}

const App: React.FC = () => {
  const svgRef = useRef<SVGSVGElement | null>(null);

  useEffect(() => {
    if (!svgRef.current) return;
    const svg = d3.select(svgRef.current);
    svg.selectAll("*").remove();
    panels.forEach(p => drawPanel(svg, p));
  }, []);

  return (
    <svg
      ref={svgRef}
      width={858}
      height={989}
      style={{ position: "absolute", left: 0, top: 0, background: "#fff" }}
    />
  );
};

export default App;
